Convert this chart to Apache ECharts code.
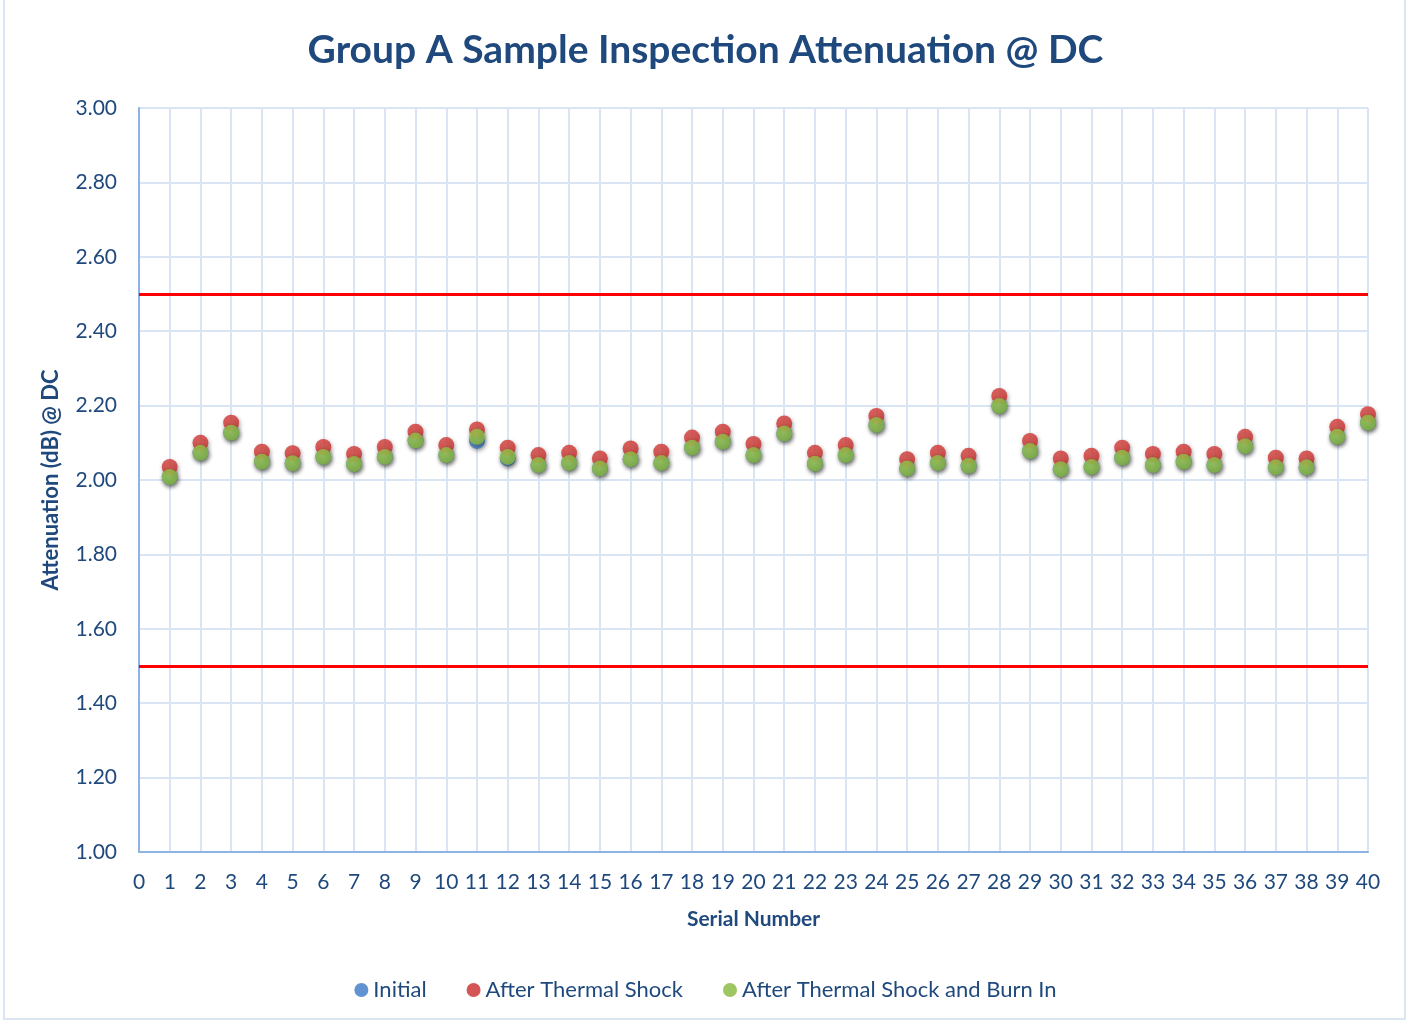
<!DOCTYPE html>
<html>
<head>
<meta charset="utf-8">
<script src="https://cdn.jsdelivr.net/npm/echarts@6/dist/echarts.min.js"></script>
<style>
html,body{margin:0;padding:0;background:#fff;}
#frame{position:absolute;left:3px;top:-2px;width:1403px;height:1022px;border:2px solid #dce6f2;box-sizing:border-box;}
#c{position:absolute;left:0;top:0;width:1411px;height:1025px;}
</style>
</head>
<body>
<div id="frame"></div>
<div id="c"></div>
<script>
var serials = [1,2,3,4,5,6,7,8,9,10,11,12,13,14,15,16,17,18,19,20,21,22,23,24,25,26,27,28,29,30,31,32,33,34,35,36,37,38,39,40];
var initial = [2.008,2.073,2.127,2.049,2.045,2.062,2.043,2.062,2.106,2.067,2.105,2.058,2.040,2.046,2.031,2.056,2.046,2.087,2.103,2.067,2.125,2.044,2.067,2.148,2.031,2.046,2.038,2.199,2.078,2.029,2.035,2.060,2.040,2.049,2.040,2.091,2.034,2.034,2.116,2.154];
var afterShock = [2.035,2.100,2.154,2.076,2.072,2.089,2.070,2.089,2.130,2.094,2.136,2.087,2.067,2.073,2.058,2.085,2.076,2.114,2.130,2.097,2.152,2.073,2.094,2.172,2.056,2.073,2.065,2.226,2.105,2.058,2.065,2.087,2.070,2.076,2.070,2.116,2.060,2.058,2.143,2.177];
var afterBurnIn = [2.008,2.073,2.127,2.049,2.045,2.062,2.043,2.062,2.106,2.067,2.116,2.062,2.040,2.046,2.031,2.056,2.046,2.087,2.103,2.067,2.125,2.044,2.067,2.148,2.031,2.046,2.038,2.199,2.078,2.029,2.035,2.060,2.040,2.049,2.040,2.091,2.034,2.034,2.116,2.154];
var limits = [2.5, 1.5];
var seriesNames = ['Initial','After Thermal Shock','After Thermal Shock and Burn In'];
var colors = ['#3a78c4','#c92a2a','#86b83a'];
var titleText = 'Group A Sample Inspection Attenuation @ DC';
var xName = 'Serial Number';
var yName = 'Attenuation (dB) @ DC';

function pairs(vals){ return serials.map(function(s,i){ return [s, vals[i]]; }); }
function grad(c, light){
  return new echarts.graphic.RadialGradient(0.45,0.4,0.65,[{offset:0,color:light},{offset:1,color:c}]);
}
var lights = ['#6aa0e0','#dc4a44','#a6d457'];
var datas = [initial, afterShock, afterBurnIn];
var textColor = '#1f497d';
var font = 'Lato, "Open Sans", sans-serif';

var series = datas.map(function(d,i){
  return {
    name: seriesNames[i], type:'scatter', data: pairs(d), symbolSize: 16,
    itemStyle:{color: grad(colors[i], lights[i]), shadowBlur:4, shadowOffsetY:2, shadowOffsetX:1, shadowColor:'rgba(0,0,0,0.45)'},
    emphasis:{disabled:true}
  };
});
series.push({
  type:'line', data:[], silent:true,
  markLine:{symbol:'none', silent:true, label:{show:false},
    lineStyle:{color:'#ff0000', width:3, type:'solid'},
    data: limits.map(function(v){ return {yAxis:v}; })}
});

var chart = echarts.init(document.getElementById('c'));
chart.setOption({
  animation:false,
  color: colors,
  title:{text:titleText, left:'center', top:26, textStyle:{color:textColor, fontSize:39, fontWeight:'bold', fontFamily:font}},
  legend:{data: seriesNames.map(function(n,i){return {name:n, itemStyle:{color:colors[i]}};}), bottom:19, left:'center', icon:'circle', itemWidth:14, itemHeight:14, itemGap:40, itemTextGap:6,
    textStyle:{color:textColor, fontSize:22, fontFamily:font}},
  grid:{left:139, right:43, top:108, bottom:173, containLabel:false},
  xAxis:{type:'value', min:0, max:40, interval:1, name:xName, nameLocation:'middle', nameGap:57,
    nameTextStyle:{color:textColor, fontSize:21, fontWeight:'bold', fontFamily:font},
    axisLine:{show:true, lineStyle:{color:'#8eb4e3', width:2}}, axisTick:{show:false},
    axisLabel:{color:textColor, fontSize:21, fontFamily:font, margin:20},
    splitLine:{show:true, lineStyle:{color:'#d9e4f4', width:2}}},
  yAxis:{type:'value', min:1, max:3, interval:0.2, name:yName, nameLocation:'middle', nameGap:77,
    nameTextStyle:{color:textColor, fontSize:22, fontWeight:'bold', fontFamily:font},
    axisLine:{show:true, lineStyle:{color:'#8eb4e3', width:2}}, axisTick:{show:false},
    axisLabel:{color:textColor, fontSize:21, fontFamily:font, margin:22, formatter:function(v){return v.toFixed(2);}},
    splitLine:{show:true, lineStyle:{color:'#d9e4f4', width:2}}},
  series: series
});
</script>
</body>
</html>
